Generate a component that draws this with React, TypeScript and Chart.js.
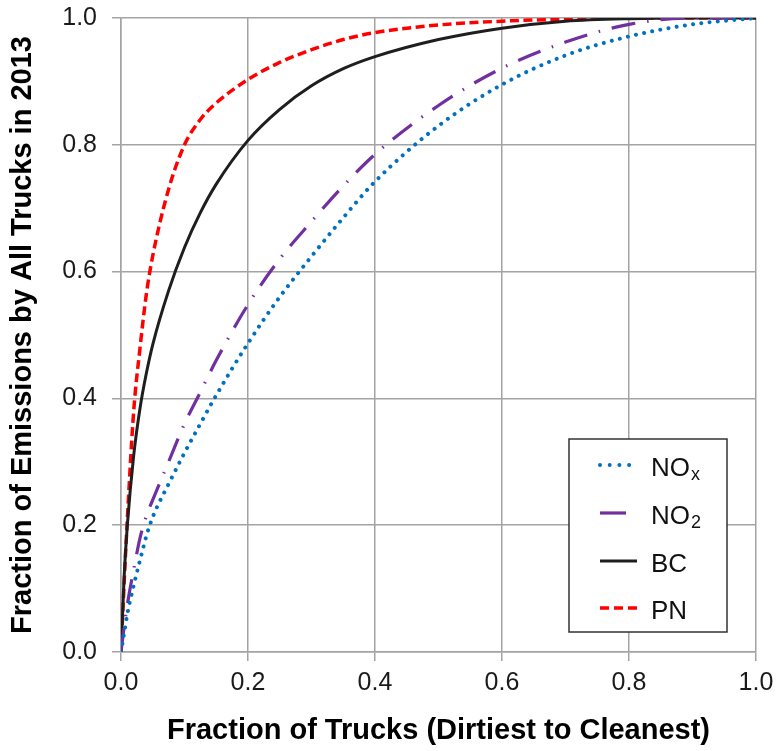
import React, { useEffect, useRef } from "react";
import { Chart, registerables } from "chart.js";

Chart.register(...registerables);

// Fraction of trucks (x) sample positions
const fractionTrucks = [0, 0.005, 0.01, 0.02, 0.03, 0.04, 0.05, 0.075, 0.1, 0.125, 0.15, 0.2, 0.25, 0.3, 0.35, 0.4, 0.5, 0.6, 0.7, 0.8, 0.9, 1.0];

// Cumulative fraction of emissions for each pollutant
const noxValues = [0, 0.03, 0.06, 0.105, 0.145, 0.183, 0.213, 0.265, 0.314, 0.36, 0.405, 0.487, 0.56, 0.624, 0.685, 0.742, 0.83, 0.895, 0.941, 0.971, 0.99, 1.0];
const no2Values = [0, 0.04, 0.075, 0.13, 0.18, 0.215, 0.24, 0.3, 0.36, 0.41, 0.46, 0.548, 0.62, 0.679, 0.735, 0.785, 0.862, 0.921, 0.962, 0.99, 1.0, 1.0];
const bcValues = [0, 0.12, 0.2, 0.31, 0.385, 0.44, 0.485, 0.57, 0.638, 0.693, 0.738, 0.807, 0.856, 0.893, 0.92, 0.939, 0.966, 0.984, 0.995, 0.999, 1.0, 1.0];
const pnValues = [0, 0.11, 0.21, 0.38, 0.48, 0.565, 0.625, 0.73, 0.8, 0.84, 0.866, 0.903, 0.93, 0.95, 0.966, 0.977, 0.989, 0.995, 0.998, 1.0, 1.0, 1.0];

const tickValues = [0, 0.2, 0.4, 0.6, 0.8, 1.0];

const seriesNames = ["NOx", "NO2", "BC", "PN"];
const seriesMain = ["NO", "NO", "BC", "PN"];
const seriesSub = ["x", "2", "", ""];
const seriesColors = ["#0070C0", "#7030A0", "#1e1e1e", "#FF0000"];

const FONT = "'Liberation Sans', Arial, Helvetica, sans-serif";

const toPoints = (ys: number[]) => fractionTrucks.map((x, i) => ({ x, y: ys[i] }));

const lineStyles = [
  { width: 4, dash: [0.001, 8.3], cap: "round" as CanvasLineCap },
  { width: 3.2, dash: [24, 12, 1.5, 12], cap: "butt" as CanvasLineCap },
  { width: 3, dash: [] as number[], cap: "butt" as CanvasLineCap },
  { width: 3.5, dash: [9, 4.5], cap: "butt" as CanvasLineCap },
];

const legendPlugin = {
  id: "customLegend",
  afterDraw(chart: any) {
    const ctx = chart.ctx as CanvasRenderingContext2D;
    const area = chart.chartArea;
    const boxRight = area.right - 29;
    const boxBottom = area.bottom - 20;
    const boxW = 158;
    const boxH = 193;
    const bx = boxRight - boxW;
    const by = boxBottom - boxH;
    ctx.save();
    ctx.fillStyle = "#ffffff";
    ctx.fillRect(bx, by, boxW, boxH);
    ctx.strokeStyle = "#333333";
    ctx.lineWidth = 1.5;
    ctx.strokeRect(bx, by, boxW, boxH);
    const baselines = [37, 85, 133, 180];
    const sampleLen = [30, 26, 37, 37];
    seriesNames.forEach((_, i) => {
      const base = by + baselines[i];
      const ly = base - 11;
      const st = lineStyles[i];
      ctx.beginPath();
      ctx.strokeStyle = seriesColors[i];
      ctx.lineWidth = st.width;
      ctx.lineCap = st.cap;
      ctx.setLineDash(i === 0 ? [0.001, 9.7] : i === 3 ? [9, 5] : []);
      ctx.moveTo(bx + 31, ly);
      ctx.lineTo(bx + 31 + sampleLen[i], ly);
      ctx.stroke();
      ctx.setLineDash([]);
      ctx.fillStyle = "#111111";
      ctx.textBaseline = "alphabetic";
      ctx.textAlign = "left";
      ctx.font = `26px ${FONT}`;
      const tx = bx + 82;
      ctx.fillText(seriesMain[i], tx, base);
      if (seriesSub[i]) {
        const w = ctx.measureText(seriesMain[i]).width;
        ctx.font = `18px ${FONT}`;
        ctx.fillText(seriesSub[i], tx + w + 1, base + 4);
      }
    });
    ctx.restore();
  },
};

export default function App() {
  const canvasRef = useRef<HTMLCanvasElement | null>(null);

  useEffect(() => {
    if (!canvasRef.current) return;
    const datasets = seriesNames.map((name, i) => ({
      label: name,
      data: toPoints([noxValues, no2Values, bcValues, pnValues][i]),
      borderColor: seriesColors[i],
      backgroundColor: seriesColors[i],
      borderWidth: lineStyles[i].width,
      borderDash: lineStyles[i].dash,
      borderCapStyle: lineStyles[i].cap,
      pointRadius: 0,
      fill: false,
      cubicInterpolationMode: "monotone" as const,
    }));

    const chart = new Chart(canvasRef.current, {
      type: "line",
      data: { datasets: datasets as any },
      options: {
        animation: false,
        responsive: false,
        devicePixelRatio: 1,
        layout: { padding: { top: 18, right: 22, left: 0, bottom: 0 } },
        plugins: {
          legend: { display: false },
          tooltip: { enabled: false },
        },
        scales: {
          x: {
            type: "linear",
            min: 0,
            max: 1,
            afterFit: (s: any) => {
              s.height = 99;
              s.paddingLeft = 0;
              s.paddingRight = 0;
            },
            afterBuildTicks: (s: any) => {
              s.ticks = tickValues.map((v) => ({ value: v }));
            },
            ticks: {
              callback: (v: any) => Number(v).toFixed(1),
              font: { family: FONT, size: 25 },
              color: "#1a1a1a",
              padding: 7,
              maxRotation: 0,
            },
            grid: { color: "#a3a3a3", lineWidth: 1.5, tickLength: 9 },
            border: { color: "#a3a3a3", width: 1.5 },
            title: {
              display: true,
              text: "Fraction of Trucks (Dirtiest to Cleanest)",
              font: { family: FONT, size: 29, weight: "bold" },
              color: "#000000",
              padding: { top: 0, bottom: 3 },
            },
          },
          y: {
            type: "linear",
            min: 0,
            max: 1,
            afterFit: (s: any) => {
              s.width = 121;
              s.paddingTop = 0;
              s.paddingBottom = 0;
            },
            afterBuildTicks: (s: any) => {
              s.ticks = tickValues.map((v) => ({ value: v }));
            },
            ticks: {
              callback: (v: any) => Number(v).toFixed(1),
              font: { family: FONT, size: 25 },
              color: "#1a1a1a",
              padding: 15,
            },
            grid: { color: "#a3a3a3", lineWidth: 1.5, tickLength: 9 },
            border: { color: "#a3a3a3", width: 1.5 },
            title: {
              display: true,
              text: "Fraction of Emissions by All Trucks in 2013",
              font: { family: FONT, size: 29, weight: "bold" },
              color: "#000000",
              padding: { top: 6, bottom: 0 },
            },
          },
        },
      },
      plugins: [legendPlugin],
    });
    return () => chart.destroy();
  }, []);

  return (
    <div style={{ position: "fixed", left: 0, top: 0, width: 778, height: 751, background: "#fff" }}>
      <canvas ref={canvasRef} width={778} height={751} style={{ display: "block" }} />
    </div>
  );
}
